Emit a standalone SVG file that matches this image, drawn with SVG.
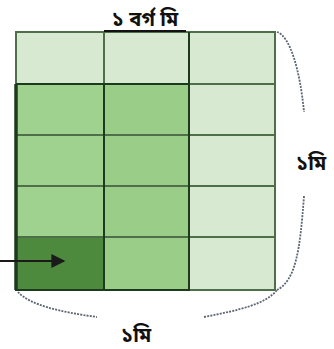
<svg xmlns="http://www.w3.org/2000/svg" width="334" height="349" viewBox="0 0 334 349">
<style>
.light{fill:#d7e9d0}
.mid{fill:#9fd18f}
.mid2{fill:#9acd88}
.dark{fill:#4e8a3e}
.grid{stroke:#4f6e4a;stroke-width:2;fill:none}
.edge{stroke:#1e3a1c;stroke-width:2;fill:none}
.dash{stroke:#5d6672;stroke-width:1.8;fill:none;stroke-dasharray:2 1.2}
.lbl{font-family:"Noto Sans Bengali","Noto Sans","Liberation Sans",sans-serif;font-weight:bold;font-size:20px;fill:#111}
</style>
<defs>
<marker id="ah2" viewBox="0 0 10 10" markerWidth="16" markerHeight="14" refX="9" refY="5" orient="auto" markerUnits="userSpaceOnUse"><path d="M0,0 L10,5 L0,10 Z" fill="#1a1a1a"/></marker>
</defs>
<rect width="334" height="349" fill="#fff"/>
<g id="grid">
<rect class="light" x="16" y="32" width="259" height="258"/>
<rect class="mid" x="16" y="84" width="88" height="206"/>
<rect class="mid2" x="104" y="84" width="85" height="206"/>
<rect class="dark" x="16" y="237" width="88" height="53"/>
<path class="grid" d="M16,84H275M16,135H275M16,186H275M16,237H275M104,32V290"/>
<rect class="grid" x="16" y="32" width="259" height="258"/>
<path class="edge" d="M16,84V290H189V32M104,84V290M16,84H189"/>
<path d="M16,84V290" stroke="#1e3a1c" stroke-width="3.5"/>
</g>
<g id="labels">
<text class="lbl" x="145" y="26" text-anchor="middle">১ বর্গ মি</text>
<path d="M104,31H186" stroke="#111" stroke-width="2"/>
<text class="lbl" x="296" y="170">১মি</text>
<text class="lbl" x="121" y="342">১মি</text>
</g>
<g id="connectors">
<path d="M0,261H64" stroke="#1a1a1a" stroke-width="2" marker-end="url(#ah2)"/>
<path class="dash" d="M277,32C290,36 300,70 304,112"/>
<path class="dash" d="M304,196C300,250 296,280 277,290"/>
<path class="dash" d="M18,292C30,305 60,312 97,317"/>
<path class="dash" d="M204,317C240,310 266,304 277,290"/>
</g>
</svg>
